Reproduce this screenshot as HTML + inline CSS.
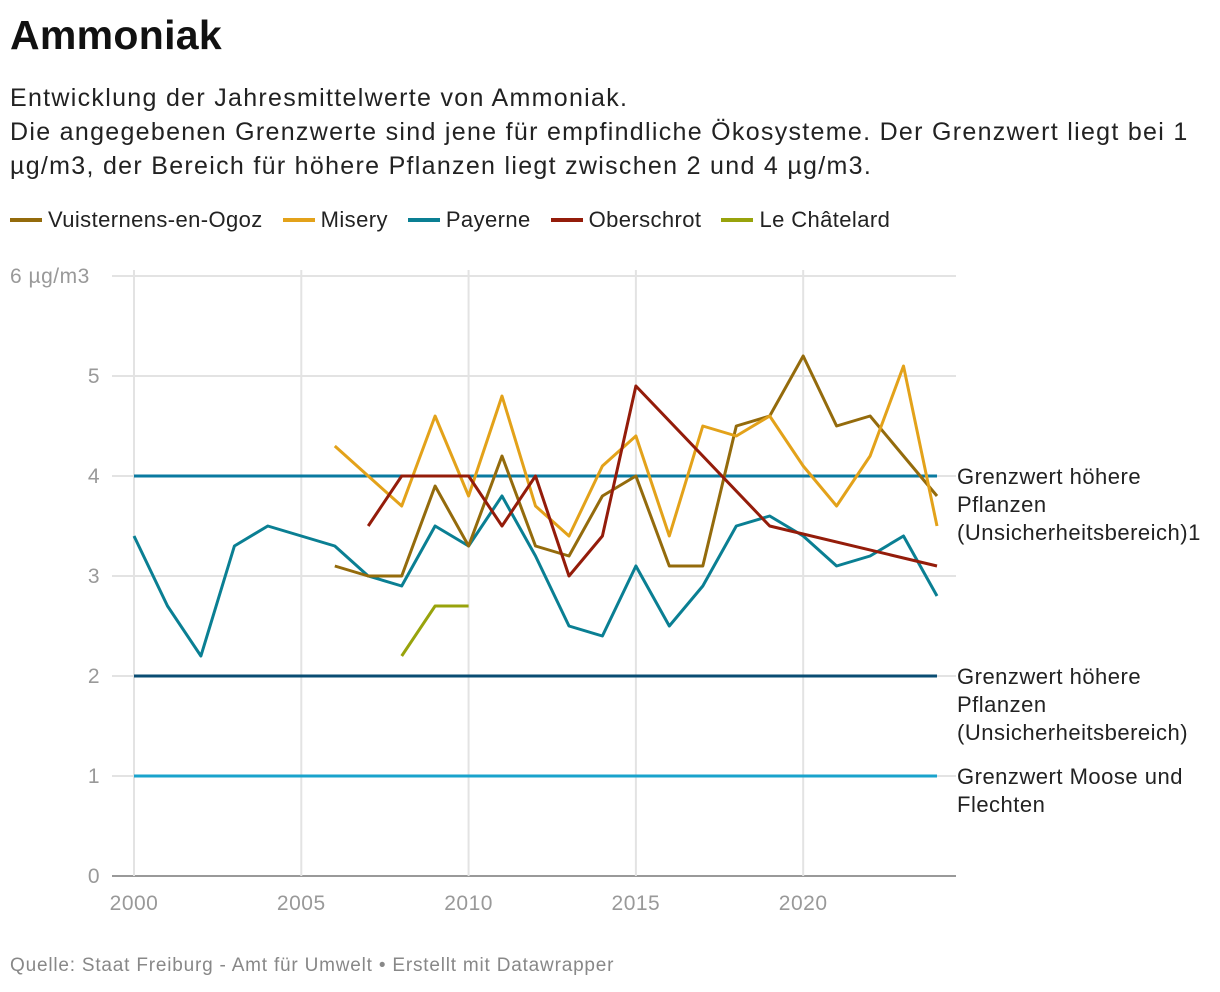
<!DOCTYPE html>
<html><head><meta charset="utf-8"><style>
body{margin:0;background:#fff;font-family:"Liberation Sans",sans-serif;}
#wrap{position:relative;width:1220px;height:992px;overflow:hidden}
h1{position:absolute;left:10px;top:12px;margin:0;font-size:41px;font-weight:bold;color:#111;letter-spacing:0.3px}
.desc{position:absolute;left:10px;top:81px;font-size:25px;letter-spacing:1.3px;line-height:34px;color:#222;width:1200px}
.legend{position:absolute;left:10px;top:207px;font-size:22px;letter-spacing:0.4px;color:#222;display:flex;gap:20px}
.legend span{display:flex;align-items:center}
.legend i{display:inline-block;width:32px;height:4px;margin-right:6px}
.foot{position:absolute;left:10px;top:955px;font-size:19px;letter-spacing:0.8px;color:#888}
svg{position:absolute;left:0;top:0}
</style></head><body><div id="wrap">
<h1>Ammoniak</h1>
<div class="desc">Entwicklung der Jahresmittelwerte von Ammoniak.<br>Die angegebenen Grenzwerte sind jene für empfindliche Ökosysteme. Der Grenzwert liegt bei 1<br>µg/m3, der Bereich für höhere Pflanzen liegt zwischen 2 und 4 µg/m3.</div>
<div class="legend">
<span><i style="background:#946b0c"></i>Vuisternens-en-Ogoz</span>
<span><i style="background:#e3a21a"></i>Misery</span>
<span><i style="background:#0a7f93"></i>Payerne</span>
<span><i style="background:#941c0a"></i>Oberschrot</span>
<span><i style="background:#98a30c"></i>Le Châtelard</span>
</div>
<svg id="svg" width="1220" height="992"></svg>
<div class="foot">Quelle: Staat Freiburg - Amt für Umwelt • Erstellt mit Datawrapper</div>
</div>
<script>
const years=[2000,2001,2002,2003,2004,2005,2006,2007,2008,2009,2010,2011,2012,2013,2014,2015,2016,2017,2018,2019,2020,2021,2022,2023,2024];
const payerne=[3.4,2.7,2.2,3.3,3.5,null,3.3,3.0,2.9,3.5,3.3,3.8,3.2,2.5,2.4,3.1,2.5,2.9,3.5,3.6,3.4,3.1,3.2,3.4,2.8];
const vuist=[null,null,null,null,null,null,3.1,3.0,3.0,3.9,3.3,4.2,3.3,3.2,3.8,4.0,3.1,3.1,4.5,4.6,5.2,4.5,4.6,4.2,3.8];
const misery=[null,null,null,null,null,null,4.3,4.0,3.7,4.6,3.8,4.8,3.7,3.4,4.1,4.4,3.4,4.5,4.4,4.6,4.1,3.7,4.2,5.1,3.5];
const obers=[null,null,null,null,null,null,null,3.5,4.0,4.0,4.0,3.5,4.0,3.0,3.4,4.9,null,null,null,3.5,null,null,null,null,3.1];
const chat=[null,null,null,null,null,null,null,null,2.2,2.7,2.7,null,null,null,null,null,null,null,null,null,null,null,null,null,null];
const yTicks=[0,1,2,3,4,5,6];
const xTicks=[2000,2005,2010,2015,2020];
const refVals=[4,2,1];
const refLabels=[["Grenzwert höhere","Pflanzen","(Unsicherheitsbereich)1"],["Grenzwert höhere","Pflanzen","(Unsicherheitsbereich)"],["Grenzwert Moose und","Flechten"]];
const refColors=["#0a7aa0","#0a4d73","#1aa3cc"];
const X=y=>134+(y-2000)*(937-134)/24, Y=v=>876-v*100;
const svg=document.getElementById('svg'),NS="http://www.w3.org/2000/svg";
function mk(t,a){const e=document.createElementNS(NS,t);for(const k in a)e.setAttribute(k,a[k]);svg.appendChild(e);return e;}
yTicks.forEach(t=>{const l=mk('line',{x1:112,x2:956,y1:Y(t),y2:Y(t),stroke:t===0?'#333':'#e3e3e3','stroke-width':t===0?1:2});

const tx=mk('text',{x:100,y:Y(t)+7,'text-anchor':'end','font-size':21,'letter-spacing':0.5,fill:'#999','font-family':'Liberation Sans'});
tx.textContent=t===6?'6 µg/m3':t;if(t===6){tx.setAttribute('x',10);tx.setAttribute('text-anchor','start');}
});
xTicks.forEach(t=>{const l=mk('line',{x1:X(t),x2:X(t),y1:270,y2:876,stroke:'#e3e3e3','stroke-width':2});

const tx=mk('text',{x:X(t),y:910,'text-anchor':'middle','font-size':21,'letter-spacing':0.5,fill:'#999','font-family':'Liberation Sans'});tx.textContent=t;
});
refVals.forEach((v,i)=>{const l=mk('line',{x1:X(2000),x2:X(2024),y1:Y(v),y2:Y(v),stroke:refColors[i],'stroke-width':3});

refLabels[i].forEach((s,j)=>{const tx=mk('text',{x:957,y:Y(v)+8+j*28,'font-size':22,'letter-spacing':0.5,fill:'#222','font-family':'Liberation Sans'});tx.textContent=s;
});});
function series(arr,col,name){let d='';arr.forEach((v,i)=>{if(v==null)return;d+=(d?'L':'M')+X(years[i]).toFixed(1)+','+Y(v).toFixed(1);});
const p=mk('path',{d:d,fill:'none',stroke:col,'stroke-width':3,'stroke-linejoin':'round'});
}
series(payerne,'#0a7f93','line-payerne');
series(chat,'#98a30c','line-le-chatelard');
series(vuist,'#946b0c','line-vuisternens');
series(misery,'#e3a21a','line-misery');
series(obers,'#941c0a','line-oberschrot');
</script></body></html>
